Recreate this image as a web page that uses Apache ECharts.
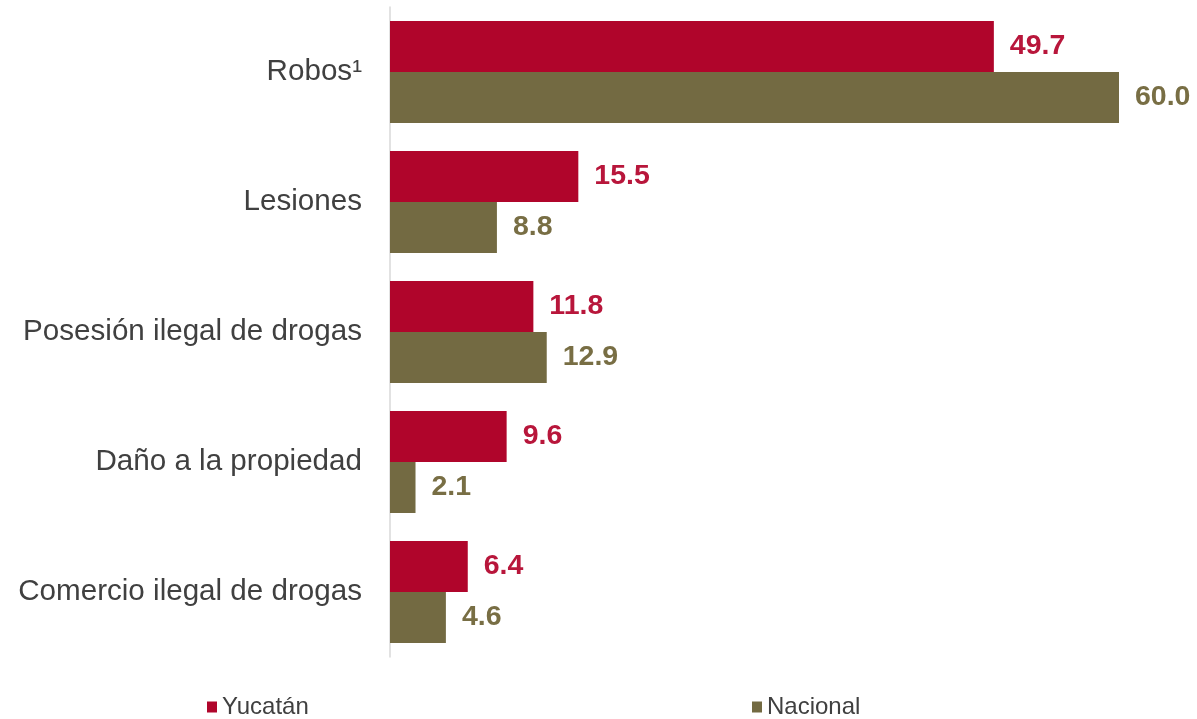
<!DOCTYPE html>
<html>
<head>
<meta charset="utf-8">
<script src="https://cdn.jsdelivr.net/npm/echarts@6/dist/echarts.min.js"></script>
<style>html,body{margin:0;padding:0;background:#fff}#c{width:1197px;height:719px}</style>
</head>
<body>
<div id="c"></div>
<script>
var categories = ['Robos¹', 'Lesiones', 'Posesión ilegal de drogas', 'Daño a la propiedad', 'Comercio ilegal de drogas'];
var yucatan = [49.7, 15.5, 11.8, 9.6, 6.4];
var nacional = [60.0, 8.8, 12.9, 2.1, 4.6];

var chart = echarts.init(document.getElementById('c'));
var font = "'Liberation Sans', Arial, sans-serif";
chart.setOption({
  animation: false,
  grid: {left: 390, top: 7, width: 789.75, height: 650},
  legend: [
    {data: ['Yucatán'], left: 207, top: 695, itemWidth: 10, itemHeight: 11, itemGap: 6, padding: 0,
     icon: 'rect',
     textStyle: {fontFamily: font, fontSize: 24, color: '#404040'}, selectedMode: false},
    {data: ['Nacional'], left: 752, top: 695, itemWidth: 10, itemHeight: 11, itemGap: 6, padding: 0,
     icon: 'rect',
     textStyle: {fontFamily: font, fontSize: 24, color: '#404040'}, selectedMode: false}
  ],
  xAxis: {type: 'value', min: 0, max: 65, show: false, splitLine: {show: false}},
  yAxis: {
    type: 'category', data: categories, inverse: true,
    axisLine: {show: true, lineStyle: {color: '#d9d9d9', width: 1.5}},
    axisTick: {show: false},
    axisLabel: {fontFamily: font, fontSize: 29.6, color: '#404040', margin: 28}
  },
  series: [
    {name: 'Yucatán', type: 'bar', data: yucatan, barWidth: 51, barGap: '0%',
     itemStyle: {color: '#B0052B'},
     label: {show: true, position: 'right', distance: 16, formatter: function(p){return p.value.toFixed(1);},
       fontFamily: font, fontSize: 28.5, fontWeight: 'bold', color: '#B8163B'}},
    {name: 'Nacional', type: 'bar', data: nacional, barWidth: 51, barGap: '0%',
     itemStyle: {color: '#736A42'},
     label: {show: true, position: 'right', distance: 16, formatter: function(p){return p.value.toFixed(1);},
       fontFamily: font, fontSize: 28.5, fontWeight: 'bold', color: '#786E44'}}
  ]
});
</script>
</body>
</html>
